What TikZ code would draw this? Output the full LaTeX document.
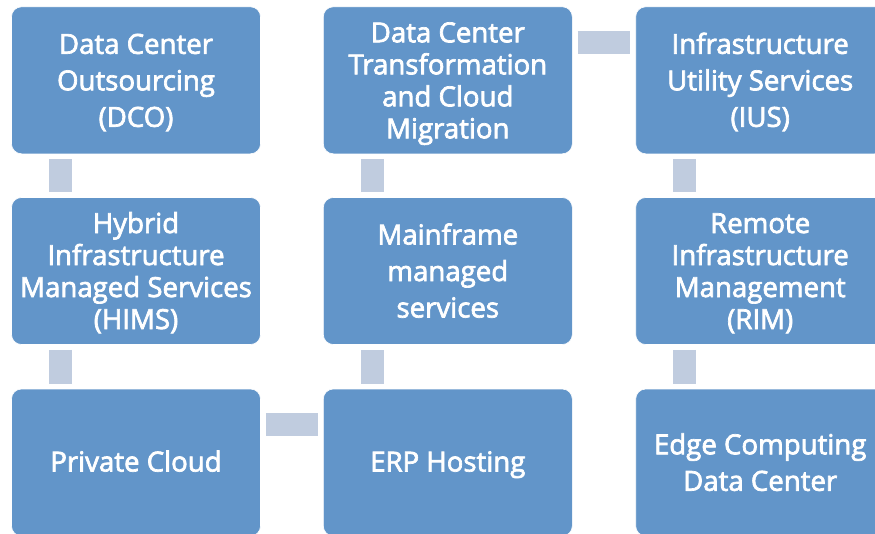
\documentclass[tikz,border=0pt]{standalone}
\usepackage{fontspec}
\setmainfont{Open Sans}
\newfontfamily\boxfont{Open Sans}[FakeBold=2.5]
\usetikzlibrary{calc}
\definecolor{boxblue}{HTML}{6295C9}
\definecolor{connblue}{HTML}{C0CCDF}
\newcommand\mytopstrut{\rule{0pt}{28pt}}
\tikzset{
  stepbox/.style={rectangle, rounded corners=10pt, fill=boxblue, draw=white, line width=0.6pt,
    minimum width=249pt, minimum height=147pt, inner sep=0pt, text=white, align=center,
    font=\boxfont\fontsize{27.6}{36.5}\selectfont,
    execute at begin node={\rule{0pt}{26pt}},
    execute at end node={\rule[-8pt]{0pt}{8pt}}},
  tight/.style={font=\boxfont\fontsize{27.6}{32}\selectfont},
  conn/.style={draw=connblue, line width=23pt, shorten >=5pt, shorten <=5pt}
}
\begin{document}
\begin{tikzpicture}[x=1pt,y=1pt]
\useasboundingbox (0,0) rectangle (875,-533);
\clip (0,0) rectangle (875,-533);
% row 1
\node[stepbox] (dco) at (136,-80.3) {\mytopstrut Data Center\\Outsourcing\\(DCO)};
\node[stepbox,tight] (dct) at (447.8,-80.3) {\mytopstrut Data Center\\Transformation\\and Cloud\\Migration};
\node[stepbox] (ius) at (760.2,-80.3) {\mytopstrut Infrastructure\\Utility Services\\(IUS)};
% row 2
\node[stepbox,tight] (hims) at (136,-271) {\mytopstrut Hybrid\\Infrastructure\\Managed Services\\(HIMS)};
\node[stepbox] (mms) at (447.8,-271) {\mytopstrut Mainframe\\managed\\services};
\node[stepbox,tight] (rim) at (760.2,-271) {\mytopstrut Remote\\Infrastructure\\Management\\(RIM)};
% row 3
\node[stepbox] (pc) at (136,-462.5) {Private Cloud};
\node[stepbox] (erp) at (447.8,-462.5) {ERP Hosting};
\node[stepbox] (edge) at (760.2,-462.5) {\mytopstrut Edge Computing\\Data Center};
% connectors
\draw[conn] ($(dco.south west)+(49,0)$) -- ($(hims.north west)+(49,0)$);
\draw[conn] ($(hims.south west)+(49,0)$) -- ($(pc.north west)+(49,0)$);
\draw[conn] ($(pc.north east)+(0,-35.5)$) -- ($(erp.north west)+(0,-35.5)$);
\draw[conn] ($(erp.north west)+(49,0)$) -- ($(mms.south west)+(49,0)$);
\draw[conn] ($(mms.north west)+(49,0)$) -- ($(dct.south west)+(49,0)$);
\draw[conn] ($(dct.north east)+(0,-35.5)$) -- ($(ius.north west)+(0,-35.5)$);
\draw[conn] ($(ius.south west)+(49,0)$) -- ($(rim.north west)+(49,0)$);
\draw[conn] ($(rim.south west)+(49,0)$) -- ($(edge.north west)+(49,0)$);
\end{tikzpicture}
\end{document}
